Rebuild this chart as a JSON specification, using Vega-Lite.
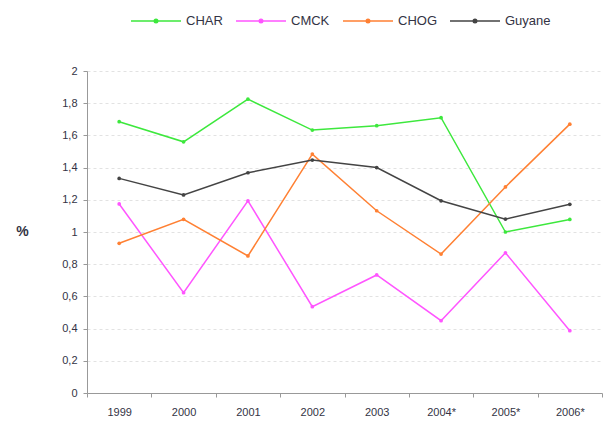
{
  "$schema": "https://vega.github.io/schema/vega-lite/v6.json",
  "width": 515,
  "height": 322,
  "autosize": "none",
  "padding": {"left": 87, "top": 71, "right": 9, "bottom": 28},
  "background": "white",
  "config": {
    "locale": {"number": {"decimal": ",", "thousands": ".", "grouping": [3], "currency": ["", " €"]}},
    "view": {"stroke": null},
    "font": "Liberation Sans",
    "axis": {"labelFont": "Liberation Sans", "labelFontSize": 11, "labelColor": "#333344", "titleFont": "Liberation Sans"}
  },
  "data": {
    "values": [
      {"year": "1999", "series": "CHAR", "value": 1.685},
      {"year": "2000", "series": "CHAR", "value": 1.56},
      {"year": "2001", "series": "CHAR", "value": 1.825},
      {"year": "2002", "series": "CHAR", "value": 1.633},
      {"year": "2003", "series": "CHAR", "value": 1.66},
      {"year": "2004*", "series": "CHAR", "value": 1.71},
      {"year": "2005*", "series": "CHAR", "value": 1.0},
      {"year": "2006*", "series": "CHAR", "value": 1.078},
      {"year": "1999", "series": "CMCK", "value": 1.174},
      {"year": "2000", "series": "CMCK", "value": 0.623},
      {"year": "2001", "series": "CMCK", "value": 1.194},
      {"year": "2002", "series": "CMCK", "value": 0.536},
      {"year": "2003", "series": "CMCK", "value": 0.733},
      {"year": "2004*", "series": "CMCK", "value": 0.449},
      {"year": "2005*", "series": "CMCK", "value": 0.871},
      {"year": "2006*", "series": "CMCK", "value": 0.387},
      {"year": "1999", "series": "CHOG", "value": 0.93},
      {"year": "2000", "series": "CHOG", "value": 1.079},
      {"year": "2001", "series": "CHOG", "value": 0.851},
      {"year": "2002", "series": "CHOG", "value": 1.484},
      {"year": "2003", "series": "CHOG", "value": 1.132},
      {"year": "2004*", "series": "CHOG", "value": 0.863},
      {"year": "2005*", "series": "CHOG", "value": 1.28},
      {"year": "2006*", "series": "CHOG", "value": 1.67},
      {"year": "1999", "series": "Guyane", "value": 1.333},
      {"year": "2000", "series": "Guyane", "value": 1.23},
      {"year": "2001", "series": "Guyane", "value": 1.368},
      {"year": "2002", "series": "Guyane", "value": 1.447},
      {"year": "2003", "series": "Guyane", "value": 1.4},
      {"year": "2004*", "series": "Guyane", "value": 1.194},
      {"year": "2005*", "series": "Guyane", "value": 1.08},
      {"year": "2006*", "series": "Guyane", "value": 1.172}
    ]
  },
  "mark": {"type": "line", "strokeWidth": 1.5, "point": {"filled": true, "size": 14}},
  "encoding": {
    "x": {
      "field": "year", "type": "ordinal", "sort": null,
      "scale": {"type": "band", "paddingInner": 0, "paddingOuter": 0},
      "axis": {"title": null, "labelAngle": 0, "tickBand": "extent", "domainColor": "#999999", "tickColor": "#999999", "tickSize": 4, "labelPadding": 9, "grid": false}
    },
    "y": {
      "field": "value", "type": "quantitative",
      "scale": {"domain": [0, 2], "nice": false},
      "axis": {
        "title": "%", "titleAngle": 0, "titleX": -65, "titleY": 160, "titleAlign": "center", "titleBaseline": "middle",
        "titleFontSize": 14, "titleFontWeight": "bold", "titleColor": "#333344",
        "values": [0, 0.2, 0.4, 0.6, 0.8, 1, 1.2, 1.4, 1.6, 1.8, 2],
        "format": ".1~f", "domainColor": "#999999", "tickColor": "#999999", "tickSize": 4, "labelPadding": 6,
        "grid": true, "gridColor": "#e2e2e2", "gridDash": [3, 3]
      }
    },
    "color": {
      "field": "series", "type": "nominal",
      "scale": {"domain": ["CHAR", "CMCK", "CHOG", "Guyane"], "range": ["#3de83d", "#ff55ff", "#ff8033", "#444444"]},
      "legend": {
        "title": null, "orient": "none", "direction": "horizontal", "legendX": 43, "legendY": -76,
        "symbolType": "M-1,0H1M-0.07,0A0.07,0.07,0,1,1,0.07,0A0.07,0.07,0,1,1,-0.07,0",
        "symbolSize": 2500, "symbolStrokeWidth": 1.5, "labelFontSize": 13, "labelColor": "#333344",
        "labelFont": "Liberation Sans", "columnPadding": 10, "labelOffset": 4
      }
    }
  }
}
